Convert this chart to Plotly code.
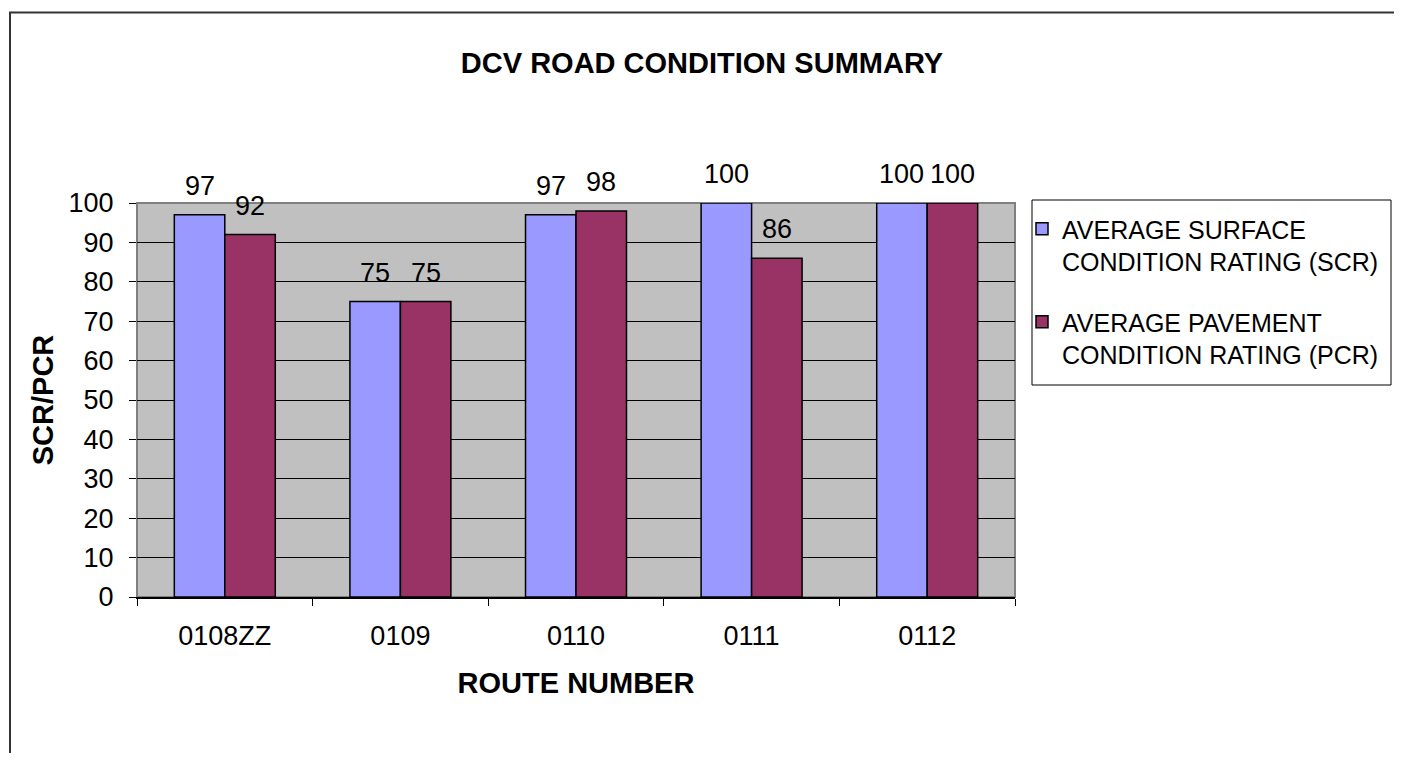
import plotly.graph_objects as go

# ---- data ----
routes = ["0108ZZ", "0109", "0110", "0111", "0112"]
scr_values = [97, 75, 97, 100, 100]
pcr_values = [92, 75, 98, 86, 100]
series_names = ["AVERAGE SURFACE<br>CONDITION RATING (SCR)",
                "AVERAGE PAVEMENT<br>CONDITION RATING (PCR)"]
chart_title = "DCV ROAD CONDITION SUMMARY"
x_title = "ROUTE NUMBER"
y_title = "SCR/PCR"
y_tick_values = [0, 10, 20, 30, 40, 50, 60, 70, 80, 90, 100]

# ---- layout constants (pixels, page coords minus the 8px body margin) ----
OFF = 8
W, H = 1402 - 2 * OFF, 761 - 2 * OFF
L, R, T, B = 137 - OFF, 1015 - OFF, 203 - OFF, 597 - OFF
FONT = "Liberation Sans, Arial, Helvetica, sans-serif"
colors = ["#9999FF", "#993366"]
BARGAP = 0.425


def px(x):
    """page x pixel -> paper coordinate"""
    return (x - OFF - L) / (R - L)


def py(y):
    """page y pixel -> paper coordinate"""
    return (B - (y - OFF)) / (B - T)


fig = go.Figure()
for i, (name, vals) in enumerate(zip(series_names, [scr_values, pcr_values])):
    fig.add_trace(go.Bar(
        x=routes, y=vals, name=name, legendgroup=f"g{i}",
        marker=dict(color=colors[i], line=dict(color="black", width=1.5)),
        hoverinfo="x+y",
    ))

annotations = []
bar_px = (R - L) / len(routes) * (1 - BARGAP) / 2
for i, vals in enumerate([scr_values, pcr_values]):
    shift = -bar_px / 2 if i == 0 else bar_px / 2
    for k, v in enumerate(vals):
        annotations.append(dict(
            x=k, y=v, xref="x", yref="y", text=str(v), showarrow=False,
            xshift=shift, yshift=12, yanchor="bottom",
            font=dict(family=FONT, size=27, color="black")))

shapes = [
    # plot area border
    dict(type="rect", xref="paper", yref="paper", x0=0, y0=0, x1=1, y1=1,
         line=dict(color="#808080", width=2), layer="below"),
    # legend box
    dict(type="rect", xref="paper", yref="paper",
         x0=px(1032), y0=py(385), x1=px(1391), y1=py(200),
         line=dict(color="black", width=1), fillcolor="white", layer="below"),
    # outer chart border
    dict(type="rect", xref="paper", yref="paper",
         x0=px(10), y0=py(12.5), x1=px(1430), y1=py(800),
         line=dict(color="#333333", width=2), layer="above"),
]

fig.update_layout(
    width=W, height=H, autosize=False,
    margin=dict(l=L, r=W - R, t=T, b=H - B, pad=0, autoexpand=False),
    paper_bgcolor="white", plot_bgcolor="#C0C0C0",
    font=dict(family=FONT, size=27, color="black"),
    title=dict(text=f"<b>{chart_title}</b>", x=(702 - OFF) / W, xanchor="center",
               y=1 - (63 - OFF) / H, yanchor="middle", yref="container",
               font=dict(family=FONT, size=29, color="black")),
    barmode="group", bargap=BARGAP, bargroupgap=0,
    showlegend=True,
    legend=dict(x=px(1022), y=py(206), xanchor="left", yanchor="top",
                borderwidth=0, bgcolor="rgba(0,0,0,0)",
                font=dict(family=FONT, size=25, color="black"),
                traceorder="grouped", tracegroupgap=25, valign="top"),
    annotations=annotations,
    shapes=shapes,
)

fig.update_xaxes(
    type="category", range=[-0.5, len(routes) - 0.5], automargin=False,
    showline=True, linecolor="black", linewidth=1.5, tickangle=0,
    ticks="outside", ticklen=7, tickcolor="black", tickwidth=1,
    tickson="boundaries", showgrid=False, ticklabelstandoff=14,
    tickfont=dict(family=FONT, size=27, color="black"),
    title=dict(text=f"<b>{x_title}</b>", standoff=23,
               font=dict(family=FONT, size=29, color="black")),
)
fig.update_yaxes(
    range=[0, 100], tickvals=y_tick_values, automargin=False,
    showgrid=True, gridcolor="black",
    gridwidth=1, zeroline=False, showline=True, linecolor="#808080",
    linewidth=1, ticks="outside", ticklen=7, tickcolor="black", tickwidth=1,
    ticklabelstandoff=10,
    tickfont=dict(family=FONT, size=27, color="black"),
    title=dict(text=f"<b>{y_title}</b>", standoff=6,
               font=dict(family=FONT, size=29, color="black")),
)

fig.write_html("out.html")
